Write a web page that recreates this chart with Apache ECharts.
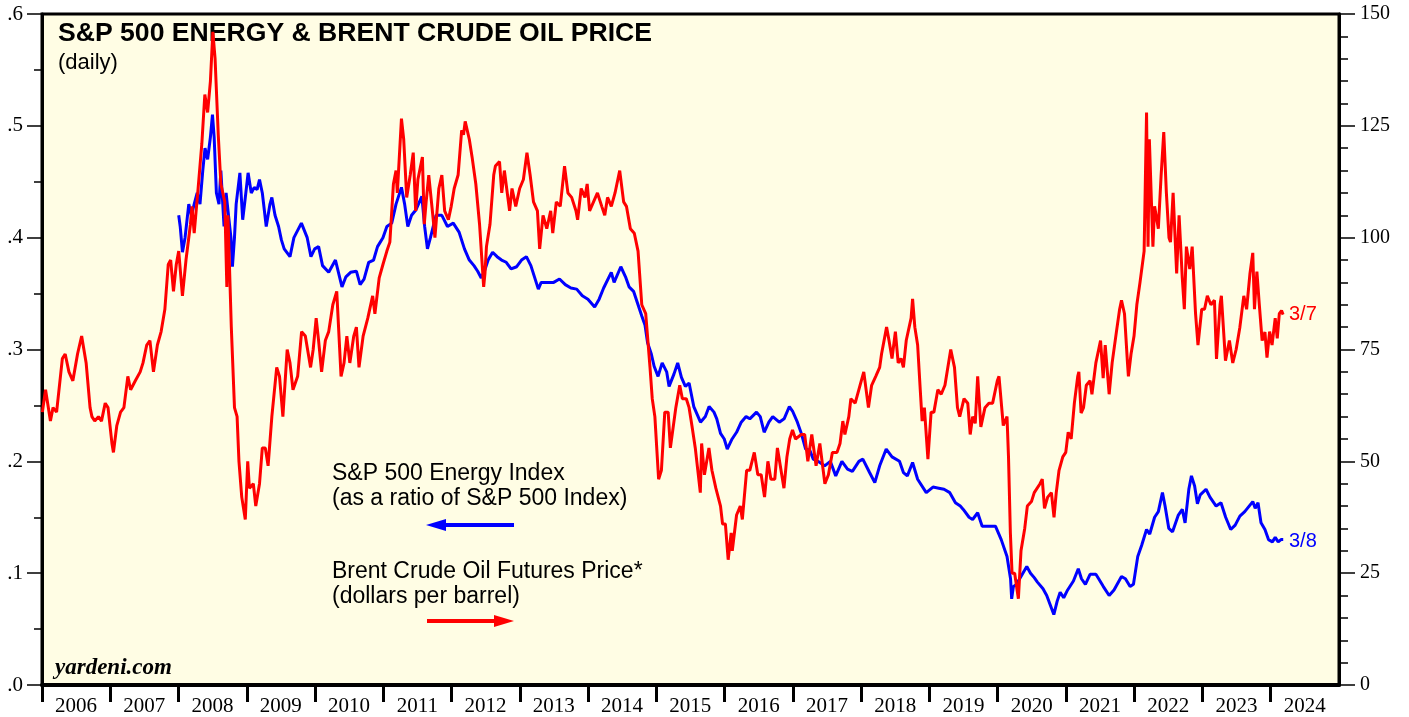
<!DOCTYPE html>
<html>
<head>
<meta charset="utf-8">
<script src="https://cdn.jsdelivr.net/npm/echarts@6/dist/echarts.min.js"></script>
<style>
html,body{margin:0;padding:0;background:#fff;}
#chart{width:1409px;height:717px;}
</style>
</head>
<body>
<div id="chart"></div>
<script>
// ---- DATA ----
const yearTicks = [2006,2007,2008,2009,2010,2011,2012,2013,2014,2015,2016,2017,2018,2019,2020,2021,2022,2023,2024];
const leftTicks = [0, 0.1, 0.2, 0.3, 0.4, 0.5, 0.6];
const rightTicks = [0, 25, 50, 75, 100, 125, 150];

const oilDates = [
'2006-01-03','2006-01-20','2006-02-15','2006-03-01','2006-03-20','2006-04-20','2006-05-05','2006-05-25','2006-06-15','2006-07-10','2006-08-01','2006-08-08','2006-08-25','2006-09-15','2006-09-25','2006-10-10','2006-10-30','2006-11-15','2006-12-05','2006-12-20',
'2007-01-10','2007-01-18','2007-02-05','2007-02-25','2007-03-15','2007-04-05','2007-04-20','2007-05-15','2007-06-10','2007-06-25','2007-07-15','2007-08-01','2007-08-20','2007-09-10','2007-09-30','2007-10-20','2007-11-07','2007-11-20','2007-12-05','2007-12-20',
'2008-01-02','2008-01-22','2008-02-10','2008-03-05','2008-03-13','2008-03-25','2008-04-15','2008-05-05','2008-05-21','2008-06-05','2008-06-20','2008-07-03','2008-07-15','2008-08-01','2008-08-15','2008-09-05','2008-09-16','2008-09-22','2008-10-10','2008-10-27','2008-11-10','2008-11-20','2008-12-05','2008-12-24',
'2009-01-06','2009-01-15','2009-02-05','2009-02-18','2009-03-10','2009-03-25','2009-04-10','2009-04-25','2009-05-15','2009-06-10','2009-06-25','2009-07-13','2009-08-05','2009-08-20','2009-09-05','2009-09-30','2009-10-21','2009-11-10','2009-12-08','2009-12-22',
'2010-01-07','2010-01-20','2010-02-05','2010-02-25','2010-03-15','2010-04-06','2010-04-27','2010-05-20','2010-06-05','2010-06-20','2010-07-06','2010-07-27','2010-08-10','2010-08-24','2010-09-15','2010-10-10','2010-11-05','2010-11-17','2010-12-10','2010-12-30',
'2011-01-20','2011-02-05','2011-02-24','2011-03-10','2011-03-17','2011-04-08','2011-04-20','2011-05-06','2011-05-25','2011-06-10','2011-06-23','2011-07-05','2011-07-29','2011-08-08','2011-08-18','2011-09-01','2011-09-25','2011-10-04','2011-10-25','2011-11-10','2011-11-25','2011-12-15','2011-12-30',
'2012-01-15','2012-02-05','2012-02-24','2012-03-05','2012-03-14','2012-04-05','2012-04-20','2012-05-10','2012-05-30','2012-06-21','2012-06-28','2012-07-06','2012-07-25','2012-08-14','2012-08-23','2012-09-14','2012-09-26','2012-10-10','2012-11-07','2012-11-20','2012-12-10','2012-12-31',
'2013-01-20','2013-02-08','2013-02-25','2013-03-15','2013-04-05','2013-04-17','2013-05-05','2013-05-25','2013-06-15','2013-06-26','2013-07-15','2013-08-05','2013-08-28','2013-09-15','2013-10-05','2013-10-28','2013-11-06','2013-11-25','2013-12-15','2013-12-27',
'2014-01-09','2014-01-30','2014-02-20','2014-03-15','2014-03-31','2014-04-15','2014-05-05','2014-05-25','2014-06-19','2014-07-10','2014-07-25','2014-08-15','2014-09-05','2014-09-25','2014-10-15','2014-11-05','2014-11-28','2014-12-10','2014-12-24',
'2015-01-13','2015-01-28','2015-02-15','2015-03-05','2015-03-17','2015-04-15','2015-05-06','2015-05-20','2015-06-10','2015-06-25','2015-07-10','2015-07-28','2015-08-24','2015-08-31','2015-09-15','2015-10-09','2015-10-25','2015-11-15','2015-12-10','2015-12-21',
'2016-01-05','2016-01-20','2016-02-05','2016-02-11','2016-03-05','2016-03-25','2016-04-05','2016-04-28','2016-05-15','2016-06-08','2016-06-27','2016-07-15','2016-08-02','2016-08-20','2016-09-05','2016-09-26','2016-10-10','2016-11-14','2016-11-30','2016-12-15','2016-12-30',
'2017-01-15','2017-02-15','2017-03-05','2017-03-22','2017-04-12','2017-05-05','2017-05-25','2017-06-21','2017-07-10','2017-07-31','2017-08-25','2017-09-10','2017-09-25','2017-10-06','2017-10-27','2017-11-07','2017-11-30','2017-12-26',
'2018-01-15','2018-02-09','2018-02-26','2018-03-20','2018-04-10','2018-04-20','2018-05-17','2018-05-30','2018-06-15','2018-07-03','2018-07-18','2018-08-02','2018-08-15','2018-08-30','2018-09-25','2018-10-03','2018-10-15','2018-10-30','2018-11-13','2018-11-23','2018-12-05','2018-12-24',
'2019-01-10','2019-01-25','2019-02-15','2019-03-05','2019-03-25','2019-04-25','2019-05-15','2019-05-31','2019-06-12','2019-07-05','2019-07-25','2019-08-07','2019-08-20','2019-09-03','2019-09-16','2019-09-25','2019-10-03','2019-10-25','2019-11-15','2019-12-05','2019-12-30',
'2020-01-08','2020-01-31','2020-02-20','2020-02-28','2020-03-09','2020-03-18','2020-04-01','2020-04-21','2020-05-05','2020-05-25','2020-06-08','2020-06-30','2020-07-15','2020-08-15','2020-08-27','2020-09-08','2020-09-25','2020-10-15','2020-10-29','2020-11-10','2020-11-25','2020-12-15','2020-12-31',
'2021-01-13','2021-01-29','2021-02-15','2021-03-05','2021-03-11','2021-03-23','2021-04-05','2021-04-20','2021-05-10','2021-05-20','2021-06-10','2021-07-05','2021-07-19','2021-07-30','2021-08-20','2021-09-05','2021-09-28','2021-10-15','2021-10-25','2021-11-10','2021-11-26','2021-12-01','2021-12-15','2021-12-31',
'2022-01-15','2022-02-01','2022-02-23','2022-03-08','2022-03-16','2022-03-23','2022-04-11','2022-04-20','2022-05-10','2022-05-25','2022-06-08','2022-06-22','2022-07-06','2022-07-14','2022-07-28','2022-08-16','2022-08-29','2022-09-15','2022-09-26','2022-10-07','2022-10-25','2022-11-07','2022-11-25','2022-12-08','2022-12-28',
'2023-01-12','2023-01-27','2023-02-15','2023-03-06','2023-03-17','2023-04-05','2023-04-12','2023-05-04','2023-05-25','2023-06-12','2023-06-30','2023-07-20','2023-08-10','2023-08-25','2023-09-12','2023-09-27','2023-10-06','2023-10-19','2023-11-01','2023-11-16','2023-12-01','2023-12-12','2023-12-26',
'2024-01-08','2024-01-25','2024-02-05','2024-02-16','2024-02-28','2024-03-07'
];
const oilValues = [
61,66,59,62,61,73,74,70,68,74,78,78,72,62,60,59,60,59,63,62,
54,52,58,61,62,69,66,68,70,72,76,77,70,76,79,84,94,95,88,94,
97,87,95,103,107,101,111,121,132,128,135,146,140,123,112,108,89,105,80,62,60,50,42,37,
50,44,45,40,45,53,53,49,60,71,69,60,75,72,66,69,79,78,71,75,
82,77,70,77,79,85,88,69,72,78,72,78,80,71,78,82,87,83,91,94,
97,99,112,115,110,126.6,122,109,114,119,106,113,118,103,108,114,104,100,111,114,106,104,107,
111,114,124,123,126,122,118,112,103,89,92,98,103,114,116,117,110,115,106,111,107,111,
113,119,114,108,106,97.5,105,102,106,101,108,107,116,110,109,106,104,111,109,112,
106,108,110,107,105,109,107,110,115,108,107,102,101,97,85,83,71,64,60,
46,48,61,61,53,62,67,64,64,62,58,53,43,54,47,53,48,44,40,36,
36,28,34,30,38,40,37,48,48,52,47,47,42,50,46,46,53,44,51,55,57,
55,56,56,50,56,49,54,45,47,52,52,54,59,56,60,64,63,67,
70,62,67,69,71,74,80,77,73,79,72,73,71,77,82,86.3,80,76,66,59,62,50.5,
61,61,66,65,67,75,71,62,60,64,63,56,60,58.5,69,63,57.7,62,63,63,68,
69,58,60,51,34,25,25,19.3,30,35,40,41,43,45,46,39.5,42,43,37.5,43,48,51,52,
56.5,55,63,69,70,60.8,62,67,68,65,72,77,68.6,76,65,72,79,84,86,83,72,69,74,78,
85,90,97,128,98,122,98,107,102,114,123.6,110,100,99,110,92,105,91,84,98,93,98,83,76,84,
84,87,85,86,72.9,85,87,72.5,77,72,75,80,87,84,92,96.6,84,92.4,85,77,78.9,73.2,79,
76,82,77.5,83,83.7,82.8
];

const energyDates = [
'2008-01-02','2008-01-10','2008-01-22','2008-02-05','2008-02-25','2008-03-10','2008-03-25','2008-04-10','2008-04-25','2008-05-10','2008-05-22','2008-06-05','2008-06-20','2008-07-01','2008-07-10','2008-07-22','2008-08-05','2008-08-15','2008-09-01','2008-09-12','2008-09-25','2008-10-08','2008-10-16','2008-10-27','2008-11-05','2008-11-25','2008-12-10','2008-12-20',
'2009-01-08','2009-01-25','2009-02-10','2009-02-25','2009-03-10','2009-03-25','2009-04-15','2009-05-05','2009-05-15','2009-06-01','2009-06-20','2009-07-05','2009-07-20','2009-08-20','2009-09-10','2009-10-20','2009-11-20','2009-12-10','2009-12-30',
'2010-01-20','2010-02-10','2010-03-15','2010-04-20','2010-05-25','2010-06-15','2010-07-10','2010-08-10','2010-08-30','2010-09-20','2010-10-15','2010-11-10','2010-12-01','2010-12-30',
'2011-01-20','2011-02-15','2011-03-10','2011-04-08','2011-04-25','2011-05-12','2011-06-01','2011-06-25','2011-07-26','2011-08-10','2011-08-25','2011-09-10','2011-09-25','2011-10-10','2011-11-10','2011-12-10',
'2012-01-10','2012-02-10','2012-03-10','2012-04-05','2012-04-30','2012-05-20','2012-06-08','2012-06-25','2012-07-15','2012-08-08','2012-09-01','2012-09-25','2012-10-20','2012-11-15','2012-12-15',
'2013-01-10','2013-02-05','2013-03-01','2013-04-10','2013-04-25','2013-05-20','2013-07-01','2013-08-01','2013-09-01','2013-10-01','2013-11-01','2013-12-01','2013-12-31',
'2014-02-05','2014-03-01','2014-03-25','2014-05-05','2014-05-20','2014-06-25','2014-07-20','2014-08-08','2014-09-01','2014-09-25','2014-10-15','2014-11-01','2014-11-15','2014-12-05','2014-12-20',
'2015-01-10','2015-02-01','2015-02-25','2015-03-10','2015-04-05','2015-04-25','2015-05-15','2015-06-05','2015-06-25','2015-07-20','2015-08-25','2015-09-20','2015-10-10','2015-11-05','2015-11-20','2015-12-10','2015-12-30',
'2016-01-15','2016-02-10','2016-03-05','2016-03-30','2016-04-25','2016-05-15','2016-06-20','2016-07-10','2016-07-31','2016-08-25','2016-09-15','2016-10-20','2016-11-15','2016-12-13','2016-12-30',
'2017-01-25','2017-02-15','2017-03-10','2017-04-01','2017-04-20','2017-05-15','2017-06-20','2017-07-20','2017-08-18','2017-09-20','2017-10-20','2017-11-15','2017-12-20',
'2018-01-10','2018-02-15','2018-03-15','2018-04-10','2018-05-15','2018-06-15','2018-07-25','2018-08-15','2018-09-05','2018-10-03','2018-10-30','2018-12-15',
'2019-01-20','2019-02-20','2019-03-20','2019-04-20','2019-05-20','2019-06-15','2019-07-01','2019-08-01','2019-08-20','2019-09-16','2019-10-10','2019-11-15','2019-12-20',
'2020-01-20','2020-02-20','2020-03-10','2020-03-16','2020-03-25','2020-04-10','2020-05-01','2020-06-05','2020-06-25','2020-07-15','2020-08-01','2020-08-31','2020-09-20','2020-10-28','2020-11-15','2020-12-01','2020-12-20',
'2021-01-10','2021-02-10','2021-03-08','2021-03-25','2021-04-15','2021-05-10','2021-06-10','2021-06-25','2021-07-20','2021-08-20','2021-09-15','2021-10-25','2021-11-15','2021-12-10','2021-12-28',
'2022-01-20','2022-02-10','2022-03-08','2022-03-25','2022-04-20','2022-05-10','2022-06-01','2022-06-15','2022-07-05','2022-07-25','2022-08-25','2022-09-15','2022-09-30','2022-10-20','2022-11-03','2022-11-20','2022-12-05','2022-12-20',
'2023-01-20','2023-02-10','2023-03-15','2023-04-10','2023-05-05','2023-06-01','2023-06-25','2023-07-20','2023-08-15','2023-09-27','2023-10-10','2023-10-25','2023-11-10','2023-12-01','2023-12-20',
'2024-01-10','2024-01-25','2024-02-10','2024-02-25','2024-03-08'
];
const energyValues = [
0.42,0.41,0.387,0.40,0.43,0.42,0.43,0.44,0.43,0.46,0.48,0.47,0.49,0.51,0.49,0.44,0.43,0.46,0.41,0.44,0.42,0.40,0.374,0.40,0.43,0.458,0.416,0.43,
0.458,0.44,0.445,0.443,0.452,0.44,0.41,0.43,0.436,0.42,0.41,0.398,0.39,0.383,0.40,0.413,0.40,0.383,0.39,
0.392,0.375,0.369,0.38,0.356,0.365,0.369,0.37,0.358,0.363,0.378,0.38,0.392,0.40,
0.41,0.413,0.43,0.445,0.43,0.41,0.42,0.425,0.437,0.41,0.39,0.40,0.41,0.42,0.42,0.41,
0.413,0.405,0.39,0.38,0.375,0.37,0.364,0.37,0.38,0.387,0.383,0.38,0.378,0.372,0.374,
0.38,0.383,0.375,0.354,0.36,0.36,0.36,0.363,0.358,0.355,0.354,0.348,0.345,
0.338,0.345,0.355,0.369,0.36,0.374,0.365,0.356,0.352,0.34,0.33,0.322,0.306,0.296,0.285,
0.276,0.288,0.28,0.267,0.278,0.288,0.275,0.267,0.27,0.249,0.235,0.24,0.249,0.244,0.238,0.225,0.22,
0.211,0.22,0.226,0.235,0.24,0.238,0.244,0.24,0.226,0.235,0.24,0.235,0.238,0.249,0.245,
0.235,0.225,0.211,0.21,0.202,0.2,0.196,0.2,0.187,0.2,0.193,0.191,0.2,
0.202,0.19,0.181,0.196,0.211,0.204,0.2,0.19,0.187,0.199,0.184,0.172,
0.177,0.176,0.175,0.172,0.163,0.16,0.157,0.15,0.148,0.154,0.142,0.142,0.142,
0.13,0.115,0.095,0.077,0.088,0.09,0.096,0.106,0.1,0.096,0.092,0.086,0.08,0.063,0.075,0.083,0.078,
0.085,0.093,0.104,0.095,0.09,0.099,0.099,0.095,0.088,0.08,0.085,0.097,0.095,0.088,0.09,
0.115,0.125,0.139,0.135,0.15,0.155,0.172,0.16,0.14,0.137,0.152,0.157,0.145,0.175,0.187,0.178,0.162,0.17,
0.175,0.168,0.16,0.163,0.15,0.139,0.143,0.151,0.155,0.164,0.158,0.163,0.145,0.139,0.13,
0.128,0.132,0.128,0.13,0.13
];

// ---- helpers ----
function decYear(s){
  const p = s.split('-').map(Number);
  const t = Date.UTC(p[0], p[1]-1, p[2]);
  const a = Date.UTC(p[0],0,1), b = Date.UTC(p[0]+1,0,1);
  return p[0] + (t-a)/(b-a);
}
const oilData = oilDates.map((d,i)=>[decYear(d), oilValues[i]]);
const energyData = energyDates.map((d,i)=>[decYear(d), energyValues[i]]);

const chart = echarts.init(document.getElementById('chart'), null, {renderer:'canvas'});
const serif = '"Liberation Serif","Times New Roman",serif';
const sans = '"Liberation Sans",Arial,Helvetica,sans-serif';

chart.setOption({
  animation:false,
  backgroundColor:'#ffffff',
  grid:{left:42,right:70,top:14,bottom:31,show:true,backgroundColor:'#fffde4',borderColor:'#000',borderWidth:3},
  xAxis:{
    type:'value', min:yearTicks[0], max:yearTicks[yearTicks.length-1]+1, interval:1,
    axisLine:{show:true,lineStyle:{color:'#000',width:4}},
    axisTick:{show:true,length:17,lineStyle:{color:'#000',width:3}},
    splitLine:{show:false},
    axisLabel:{
      formatter:v=> (yearTicks.indexOf(v)>=0 ? String(v) : ''),
      color:'#000', fontFamily:serif, fontSize:21, margin:11,
      align:'center', padding:[0,0,0,68], showMaxLabel:false
    }
  },
  yAxis:[{
    type:'value', min:leftTicks[0], max:leftTicks[leftTicks.length-1], interval:0.1, position:'left',
    axisLine:{show:true,lineStyle:{color:'#000',width:3}},
    axisTick:{show:true,length:15,lineStyle:{color:'#000',width:1.5}},
    minorTick:{show:true,splitNumber:2,length:8,lineStyle:{color:'#000',width:1.5}},
    splitLine:{show:false},
    axisLabel:{formatter:v=>v.toFixed(1).replace(/^0/,''),color:'#000',fontFamily:serif,fontSize:21,margin:19}
  },{
    type:'value', min:rightTicks[0], max:rightTicks[rightTicks.length-1], interval:25, position:'right',
    axisLine:{show:true,lineStyle:{color:'#000',width:3}},
    axisTick:{show:true,length:16,lineStyle:{color:'#000',width:1.5}},
    minorTick:{show:true,splitNumber:5,length:9,lineStyle:{color:'#000',width:1.5}},
    splitLine:{show:false},
    axisLabel:{color:'#000',fontFamily:serif,fontSize:20,margin:21}
  }],
  series:[{
    name:'S&P 500 Energy Index (ratio)', type:'line', yAxisIndex:0, data:energyData,
    showSymbol:false, symbol:'none', lineStyle:{color:'#0000ff',width:3}, z:3
  },{
    name:'Brent Crude Oil', type:'line', yAxisIndex:1, data:oilData,
    showSymbol:false, symbol:'none', lineStyle:{color:'#ff0000',width:3}, z:4
  }],
  graphic:[
    {type:'text',left:58,top:20,style:{text:'S&P 500 ENERGY & BRENT CRUDE OIL PRICE',font:'bold 26.6px '+sans,fill:'#000'}},
    {type:'text',left:58,top:52,style:{text:'(daily)',font:'22px '+sans,fill:'#000'}},
    {type:'text',left:332,top:462,style:{text:'S&P 500 Energy Index',font:'23px '+sans,fill:'#000'}},
    {type:'text',left:332,top:487,style:{text:'(as a ratio of S&P 500 Index)',font:'23px '+sans,fill:'#000'}},
    {type:'text',left:332,top:560,style:{text:'Brent Crude Oil Futures Price*',font:'23px '+sans,fill:'#000'}},
    {type:'text',left:332,top:585,style:{text:'(dollars per barrel)',font:'23px '+sans,fill:'#000'}},
    {type:'line',shape:{x1:442,y1:525,x2:514,y2:525},style:{stroke:'#0000ff',lineWidth:4}},
    {type:'polygon',shape:{points:[[426,525],[446,519],[446,531]]},style:{fill:'#0000ff'}},
    {type:'line',shape:{x1:427,y1:621,x2:498,y2:621},style:{stroke:'#ff0000',lineWidth:4}},
    {type:'polygon',shape:{points:[[514,621],[494,615],[494,627]]},style:{fill:'#ff0000'}},
    {type:'text',left:1289,top:304,style:{text:'3/7',font:'20px '+sans,fill:'#ff0000'}},
    {type:'text',left:1289,top:531,style:{text:'3/8',font:'20px '+sans,fill:'#0000ff'}},
    {type:'text',left:55,top:657,style:{text:'yardeni.com',font:'italic bold 23px '+serif,fill:'#000'}}
  ]
});
</script>
</body>
</html>
